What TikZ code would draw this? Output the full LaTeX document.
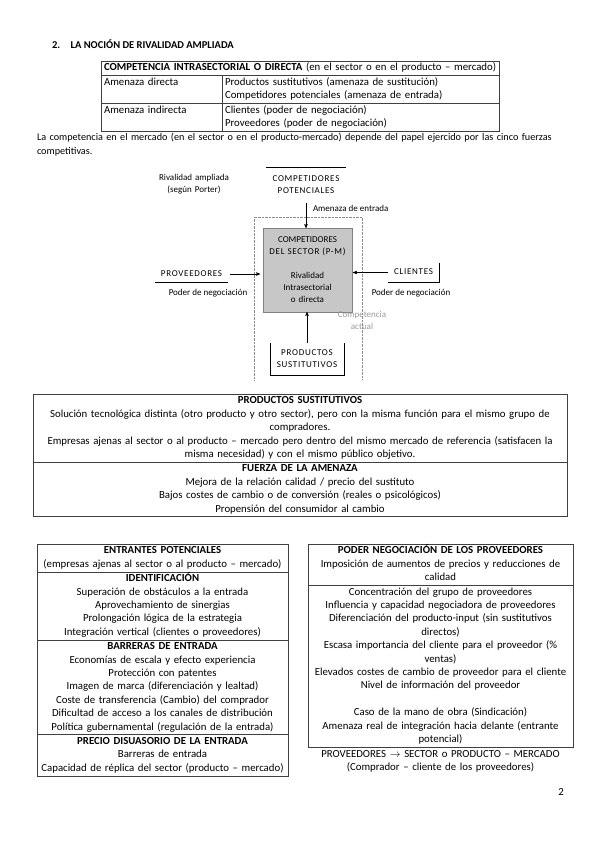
\documentclass[tikz,border=0pt]{standalone}
\usepackage{fontspec}
\setmainfont{Carlito}
\usepackage{amssymb,amsmath}
\usetikzlibrary{calc,arrows,positioning}
\newcommand{\espaciado}[1]{{\addfontfeature{LetterSpace=8}#1}}

\begin{document}
\begin{tikzpicture}[x=1pt,y=-1pt]
    \tikzstyle{every node}=[inner sep=0pt, outer sep=0pt]
    \tikzstyle{txt}=[align=center, font=\fontsize{10.8}{13.4}\selectfont, execute at begin node=\strut, execute at end node=\strut]
    \tikzstyle{cell}=[txt, draw=black!75, line width=.6pt, inner xsep=2pt, inner ysep=.5pt]
    \tikzstyle{lcell}=[cell, align=left, inner xsep=3pt]
    \tikzstyle{fig}=[align=center, font=\fontsize{9}{12}\selectfont, execute at begin node=\strut, execute at end node=\strut]
    \tikzstyle{arr}=[->, >=stealth', line width=.5pt]
    \path[use as bounding box] (0,0) rectangle (599,848);

    \node[anchor=base west, font=\fontsize{10.5}{13}\selectfont\bfseries] (titulo) at (52,49) {2.\hspace{1em}LA NOCIÓN DE RIVALIDAD AMPLIADA};

    \node[lcell, anchor=north west, text width=392pt] (comp) at (101,61) {\mbox{\textbf{COMPETENCIA INTRASECTORIAL O DIRECTA} (en el sector o en el producto – mercado)}};
    \node[lcell, below=0pt of comp.south west, anchor=north west, text width=115pt] (dir) {Amenaza directa\\~};
    \node[lcell, right=0pt of dir.north east, anchor=north west, text width=271pt] (dir2) {Productos sustitutivos (amenaza de sustitución)\\Competidores potenciales (amenaza de entrada)};
    \node[lcell, below=0pt of dir.south west, anchor=north west, text width=115pt] (ind) {Amenaza indirecta\\~};
    \node[lcell, right=0pt of ind.north east, anchor=north west, text width=271pt] (ind2) {Clientes (poder de negociación)\\Proveedores (poder de negociación)};

    \node[anchor=north west, align=left, text width=540pt, font=\fontsize{10.2}{14}\selectfont] (parr) at (37,131) {\strut\mbox{La competencia en el mercado (en el sector o en el producto-mercado) depende del papel ejercido por las cinco fuerzas}\\competitivas.\strut};

    \node[fig, text width=80pt] (rival) at (194,184) {Rivalidad ampliada\\(según Porter)};
    \node[fig, text width=80pt, inner ysep=6pt] (pot) at (306,185) {\espaciado{COMPETIDORES}\\\espaciado{POTENCIALES}};
    \draw (pot.north west) -- (pot.north east);
    \draw[densely dotted, black!45] (254,380) |- (362,217) -- (362,380);
    \node[fig, text width=89pt, fill=black!22, draw=black!50, minimum height=84pt] (sector) at (307.5,270) {COMPETIDORES\\\espaciado{DEL SECTOR (P-M)}\\[12pt]Rivalidad\\Intrasectorial\\o directa};
    \node[fig, anchor=west] (amen) at (313,209) {Amenaza de entrada};
    \draw[arr] (pot.south) -- (pot.south |- sector.north);

    \node[fig, minimum width=73pt, inner ysep=2pt] (prov) at (191.5,274) {\espaciado{PROVEEDORES}};
    \draw (prov.south west) -- (prov.south east);
    \draw[arr, shorten <=2pt, shorten >=3pt] (prov.east) -- (prov.east -| sector.west);
    \node[fig] (podp) at (208,293) {Poder de negociación};

    \node[fig, minimum width=51pt, inner ysep=4pt] (cli) at (413.5,272.5) {\espaciado{CLIENTES}};
    \draw (cli.north east) -- (cli.south east) -- (cli.south west);
    \draw[arr, shorten >=1pt] (cli.west) -- (cli.west -| sector.east);
    \node[fig] (podc) at (411,293) {Poder de negociación};

    \node[fig, text width=60pt, text=black!40] (actual) at (362,321) {Competencia\\actual};
    \node[fig, text width=74pt, inner ysep=4pt] (prod) at (307,359) {\espaciado{PRODUCTOS}\\\espaciado{SUSTITUTIVOS}};
    \draw (prod.north west) -- (prod.south west) -- (prod.south east) -- (prod.north east);
    \draw[arr] (prod.north) -- (prod.north |- sector.south);

    \node[cell, anchor=north west, text width=530pt] (sust) at (33,394) {\textbf{PRODUCTOS SUSTITUTIVOS}\\Solución tecnológica distinta (otro producto y otro sector), pero con la misma función para el mismo grupo de\\compradores.\\Empresas ajenas al sector o al producto – mercado pero dentro del mismo mercado de referencia (satisfacen la\\misma necesidad) y con el mismo público objetivo.};
    \node[cell, below=0pt of sust, text width=530pt] (fuerza) {\textbf{FUERZA DE LA AMENAZA}\\Mejora de la relación calidad / precio del sustituto\\Bajos costes de cambio o de conversión (reales o psicológicos)\\Propensión del consumidor al cambio};

    \node[cell, anchor=north west, text width=247pt] (entr) at (37,544) {\textbf{ENTRANTES POTENCIALES}\\(empresas ajenas al sector o al producto – mercado)};
    \node[cell, below=0pt of entr, text width=247pt] (ident) {\textbf{IDENTIFICACIÓN}\\Superación de obstáculos a la entrada\\Aprovechamiento de sinergias\\Prolongación lógica de la estrategia\\Integración vertical (clientes o proveedores)};
    \node[cell, below=0pt of ident, text width=247pt] (barr) {\textbf{BARRERAS DE ENTRADA}\\Economías de escala y efecto experiencia\\Protección con patentes\\Imagen de marca (diferenciación y lealtad)\\Coste de transferencia (Cambio) del comprador\\Dificultad de acceso a los canales de distribución\\Política gubernamental (regulación de la entrada)};
    \node[cell, below=0pt of barr, text width=247pt] (precio) {\textbf{PRECIO DISUASORIO DE LA ENTRADA}\\Barreras de entrada\\Capacidad de réplica del sector (producto – mercado)};

    \node[cell, anchor=north west, text width=261pt] (poder) at (308,544) {\textbf{PODER NEGOCIACIÓN DE LOS PROVEEDORES}\\Imposición de aumentos de precios y reducciones de\\calidad};
    \node[cell, below=0pt of poder, text width=261pt] (poder2) {Concentración del grupo de proveedores\\Influencia y capacidad negociadora de proveedores\\Diferenciación del producto-input (sin sustitutivos\\directos)\\Escasa importancia del cliente para el proveedor (\%\\ventas)\\Elevados costes de cambio de proveedor para el cliente\\Nivel de información del proveedor\\~\\Caso de la mano de obra (Sindicación)\\Amenaza real de integración hacia delante (entrante\\potencial)};
    \node[txt, text width=265pt, below=1pt of poder2] (cadena) {PROVEEDORES \ensuremath{\rightarrow} SECTOR o PRODUCTO – MERCADO\\(Comprador – cliente de los proveedores)};

    \node[txt] (pag) at (561,793) {2};
\end{tikzpicture}
\end{document}
